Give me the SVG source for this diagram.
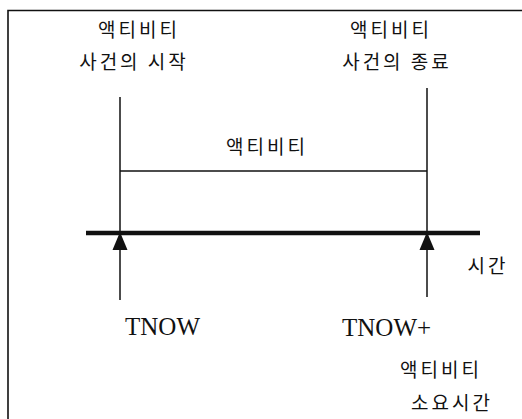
<svg xmlns="http://www.w3.org/2000/svg" width="522" height="419" viewBox="0 0 522 419">
<style>
.ko{font-family:"Noto Sans CJK KR","Noto Sans",sans-serif;font-size:19px;fill:#111;letter-spacing:3px;text-anchor:middle}
.en{font-family:"Liberation Serif","Times New Roman",serif;font-size:25px;fill:#111}
.ln{stroke:#111;stroke-width:1.5;fill:none}
.ah{fill:#111}
</style>
<rect width="522" height="419" fill="#fff"/>
<path id="frame" d="M8,419 V10.5 H522" fill="none" stroke="#111" stroke-width="1.6"/>
<g id="start-label">
<text class="ko" x="139" y="37">액티비티</text>
<text class="ko" x="134" y="69">사건의 시작</text>
</g>
<g id="end-label">
<text class="ko" x="391" y="37">액티비티</text>
<text class="ko" x="397" y="69">사건의 종료</text>
</g>
<g id="activity-label">
<text class="ko" x="267" y="154">액티비티</text>
</g>
<g id="time-label">
<text class="ko" x="488" y="273">시간</text>
</g>
<g id="tnow-label">
<text class="en" x="125" y="335">TNOW</text>
</g>
<g id="tnow-plus-label">
<text class="en" x="342" y="336">TNOW+</text>
<text class="ko" x="441" y="377">액티비티</text>
<text class="ko" x="452" y="410">소요시간</text>
</g>
<g id="connectors">
<line class="ln" x1="120" y1="97" x2="120" y2="300"/>
<line class="ln" x1="427" y1="88" x2="427" y2="297"/>
<line class="ln" x1="120" y1="171" x2="427" y2="171"/>
<line x1="86" y1="233" x2="480" y2="233" stroke="#111" stroke-width="4.5"/>
<polygon class="ah" points="120,232 112.5,250 127.5,250"/>
<polygon class="ah" points="427,232 419.5,250 434.5,250"/>
</g>
</svg>
